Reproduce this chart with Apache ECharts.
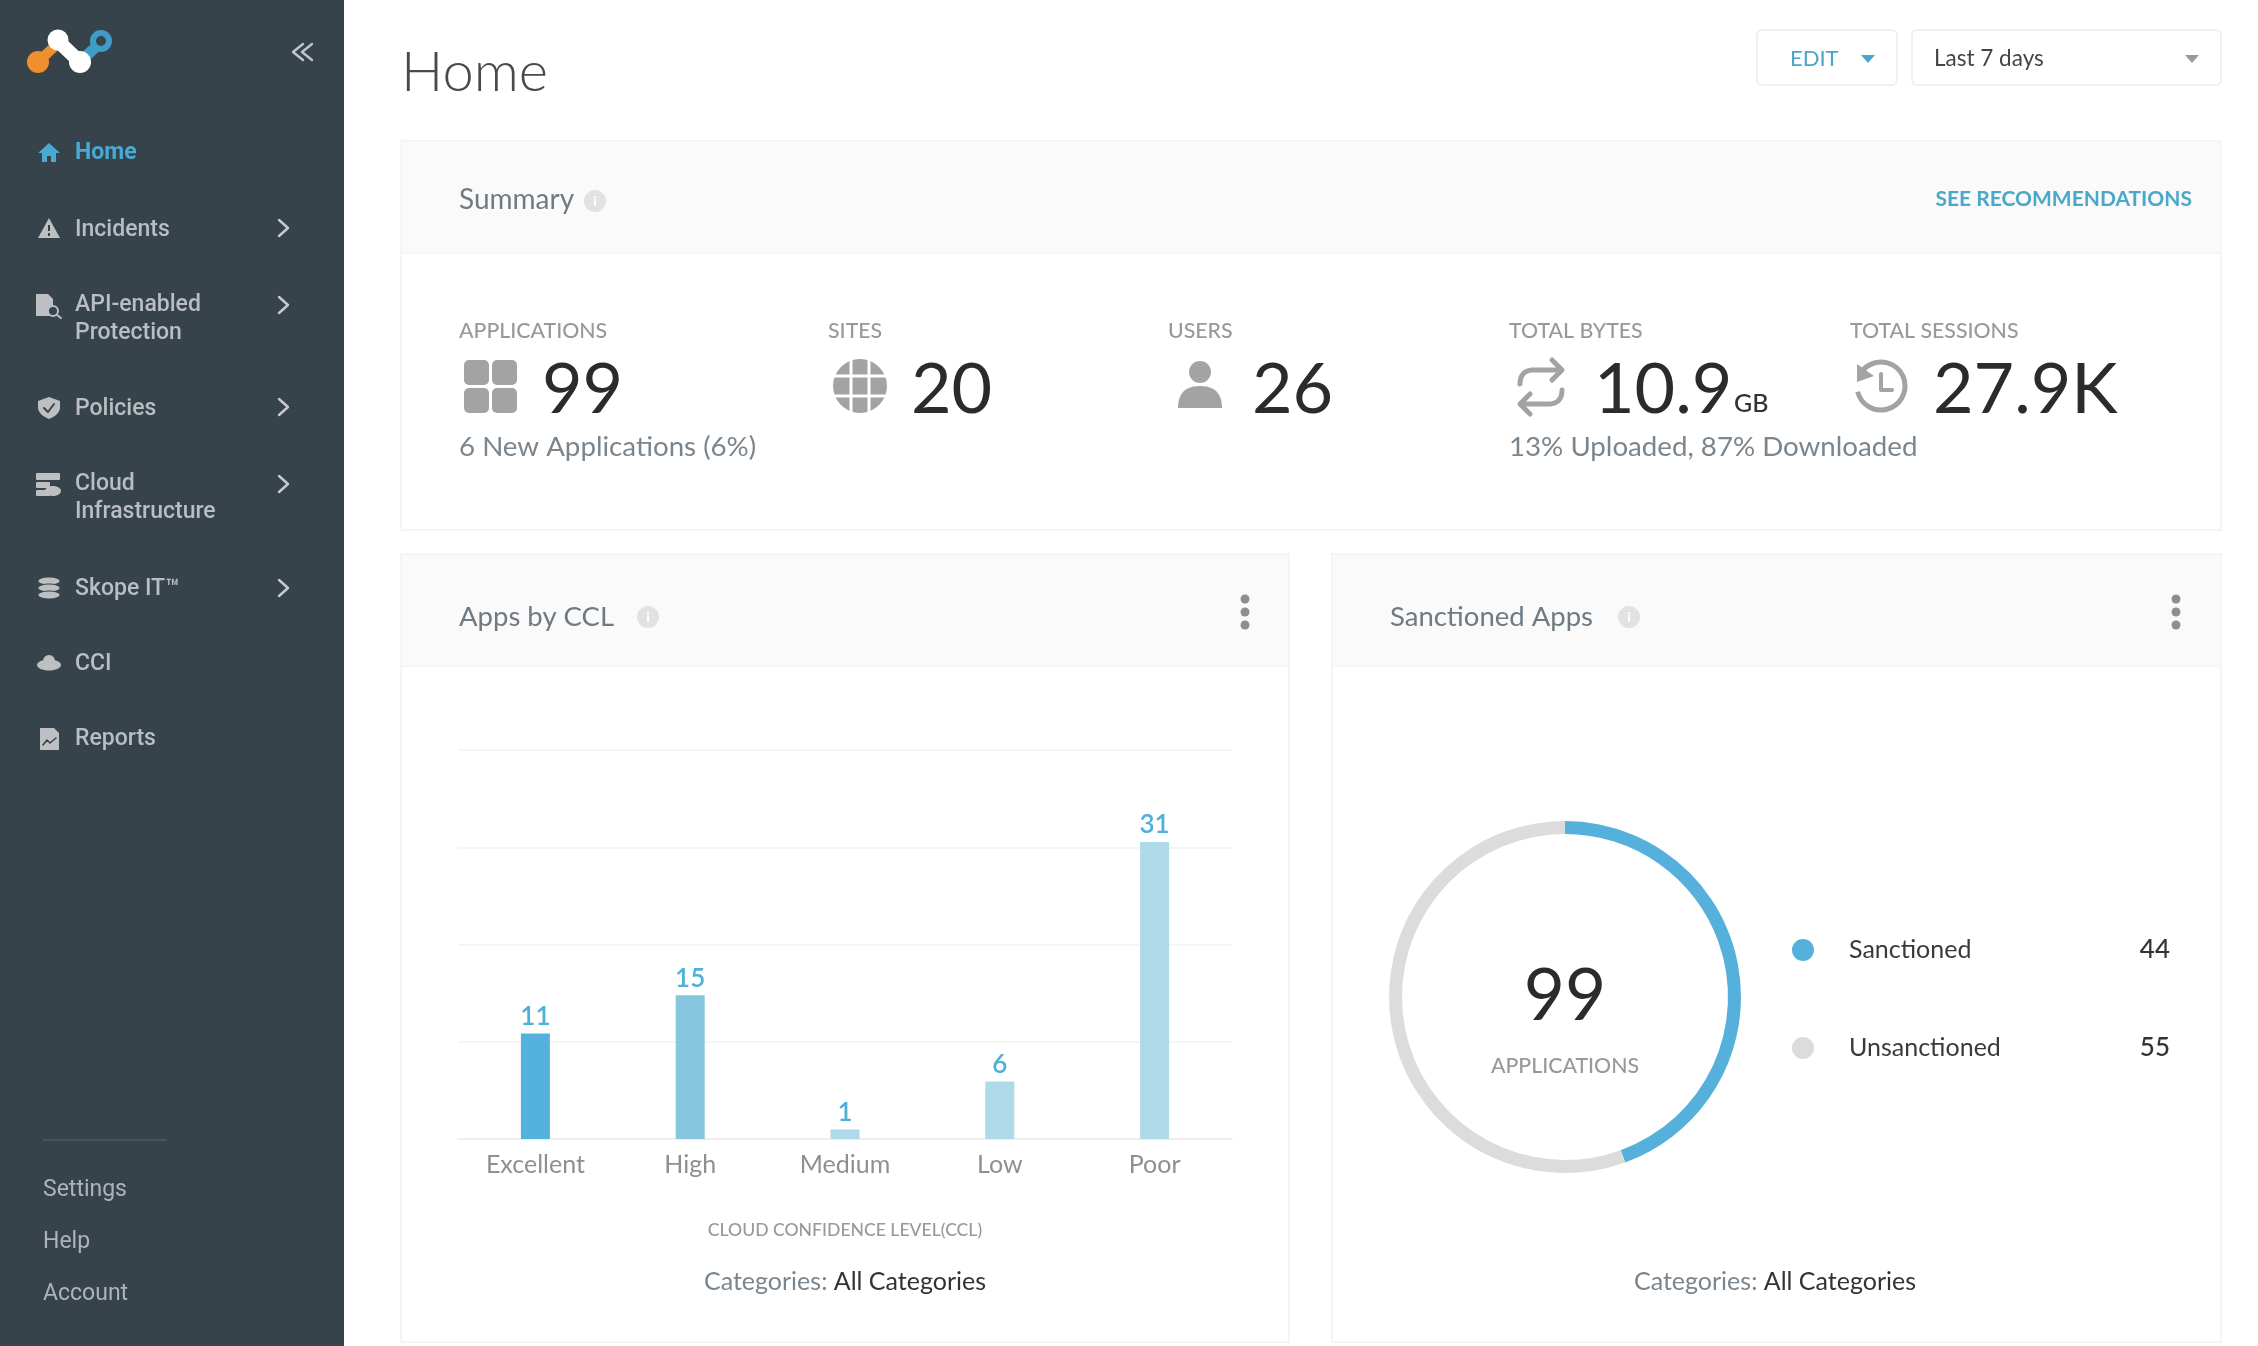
<!DOCTYPE html>
<html><head><meta charset="utf-8">
<style>html,body{margin:0;padding:0;background:#fff}#c{width:2258px;height:1346px}</style>
<script src="https://cdn.jsdelivr.net/npm/echarts@6/dist/echarts.min.js"></script>
</head><body><div id="c"></div>
<script>
// ---- chart data ----
const cclCategories = ['Excellent','High','Medium','Low','Poor'];
const cclValues = [11,15,1,6,31];
const cclColors = ['#55b2dd','#86c6df','#add9e9','#add9e9','#add9e9'];
const sanctionNames = ['Sanctioned','Unsanctioned'];
const sanctionValues = [44,55];
const sanctionColors = ['#55b1dc','#dcdcdc'];
// ---- page text ----
const navLabels = ['Home','Incidents','API-enabled\nProtection','Policies','Cloud\nInfrastructure','Skope IT™','CCI','Reports'];
const footLabels = ['Settings','Help','Account'];
const metricLabels = ['APPLICATIONS','SITES','USERS','TOTAL BYTES','TOTAL SESSIONS'];
const metricValues = ['99','20','26','10.9','27.9K'];

// ---- layout of the page chrome ----
const navY = [153,230,319,409,498,589,664,739];
const navArrow = [false,true,true,true,true,true,false,false];
const arrowY = [0,228,305,407,484,588,0,0];
const footY = [1190,1242,1294];
const metricLabelX = [459,828,1168,1509,1850];
const metricValueX = [542,911,1252,1594,1933];

const LATO='Lato, sans-serif', ROB='Roboto, sans-serif';
const g=[];
function T(x,y,text,size,fill,o){o=o||{};g.push({type:'text',x:x,y:y,z:o.z||5,style:{text:text,font:(o.w||400)+' '+size+'px '+(o.f||LATO),fill:fill,textAlign:o.a||'left',textVerticalAlign:'middle',verticalAlign:'middle',lineHeight:o.lh}});}
function R(x,y,w,h,fill,stroke,r,z){g.push({type:'rect',z:z===undefined?-1:z,shape:{x:x,y:y,width:w,height:h,r:r||0},style:{fill:fill||'none',stroke:stroke||null,lineWidth:stroke?1.5:0}});}
// simple M/L/Q/Z path flattened into polygons (filled) or polylines (stroked)
function P(d,fill,stroke,lw){
 const tk=d.match(/[MLQZ]|-?[\d.]+/g); let subs=[],cur=null,i=0,cmd;
 while(i<tk.length){
  if(/[MLQZ]/.test(tk[i])){cmd=tk[i++]; if(cmd==='Z')continue;}
  if(cmd==='M'){cur=[[+tk[i],+tk[i+1]]];subs.push(cur);i+=2;cmd='L';}
  else if(cmd==='L'){cur.push([+tk[i],+tk[i+1]]);i+=2;}
  else if(cmd==='Q'){const p0=cur[cur.length-1],c=[+tk[i],+tk[i+1]],p=[+tk[i+2],+tk[i+3]];i+=4;
   for(let k=1;k<=12;k++){const t=k/12,u=1-t;cur.push([u*u*p0[0]+2*u*t*c[0]+t*t*p[0],u*u*p0[1]+2*u*t*c[1]+t*t*p[1]]);}}
 }
 subs.forEach(pts=>g.push({type:fill?'polygon':'polyline',z:5,shape:{points:pts},style:{fill:fill||'none',stroke:stroke||null,lineWidth:lw||0,lineCap:'round',lineJoin:'round'}}));
}
function C(cx,cy,r,fill,stroke,lw){g.push({type:'circle',z:5,shape:{cx:cx,cy:cy,r:r},style:{fill:fill||'none',stroke:stroke||null,lineWidth:lw||0}});}
function L(x1,y1,x2,y2,stroke,lw,cap){g.push({type:'line',z:5,shape:{x1:x1,y1:y1,x2:x2,y2:y2},style:{stroke:stroke,lineWidth:lw,lineCap:cap||'round'}});}

// sidebar
const SB='#37434b', NT='#b9bec2', IC='#bcc0c3', BL='#4aa9d3';
R(0,0,344,1346,SB);
// logo
L(38,62,54,47,'#ef8f2e',10); C(38,62,11,'#ef8f2e');
L(85,57,99,44,'#3f9cc6',11); C(101,41,8,SB,'#3f9cc6',6);
L(58,41,80,62,'#ffffff',14); C(58,40,10.5,'#ffffff'); C(80,62,11,'#ffffff');
P('M312 44 L302 52 L312 60 M303 44 L293 52 L303 60',null,'#c2c6c9',2.4);
// nav
navLabels.forEach((t,i)=>{const two=t.includes('\n');T(75,navY[i],t,23,i===0?BL:NT,{f:ROB,w:i===0?700:500,lh:two?28:undefined});
 if(navArrow[i])P(`M279 ${arrowY[i]-8} L288 ${arrowY[i]} L279 ${arrowY[i]+8}`,null,'#c8cbce',2.4);});
// nav icons
P('M38 153 L49 143 L60 153 L56 153 L56 162 L51 162 L51 156 L47 156 L47 162 L42 162 L42 153Z',BL);
P('M49 218 L60 238 L38 238Z',IC); L(49,225,49,231,SB,2,'butt'); L(49,233,49,236,SB,2,'butt');
P('M36 294 L48 294 L53 299 L53 316 L36 316Z',IC); C(53,311,5,SB,IC,2); L(57,315,61,318,IC,2);
P('M49 397 L60 401 L60 408 Q59 415 49 419 Q39 415 38 408 L38 401Z',IC); P('M44 408 L48 412 L54 404',null,SB,2);
R(36,473,24,7,IC,null,1,5);R(36,482,14,6,IC,null,1,5);R(36,490,14,6,IC,null,1,5);g.push({type:'ellipse',z:5,shape:{cx:53,cy:491,rx:8,ry:5},style:{fill:IC}});
[581,588,595].forEach(y=>g.push({type:'ellipse',z:5,shape:{cx:49,cy:y,rx:11,ry:4},style:{fill:IC,stroke:SB,lineWidth:1}}));
g.push({type:'ellipse',z:5,shape:{cx:49,cy:665,rx:12,ry:5.5},style:{fill:IC}});C(49,661,6,IC);
P('M40 728 L54 728 L59 733 L59 750 L40 750Z',IC);P('M43 745 L47 740 L50 743 L56 738',null,SB,1.6);
// sidebar foot
L(43,1140,167,1140,'#4d5a63',1.5,'butt');
footLabels.forEach((t,i)=>T(43,footY[i],t,23,'#aeb3b7',{f:ROB}));

// title + controls
T(401,73,'Home',56,'#4a4a4a',{w:300});
R(1757,30,140,55,'#fff','#ececec',5);
T(1790,59,'EDIT',22,'#4aa6c8');
P('M1861 55 L1875 55 L1868 63Z','#4aa6c8');
R(1912,30,309,55,'#fff','#ececec',5);
T(1934,59,'Last 7 days',22.5,'#444');
P('M2185 55 L2199 55 L2192 63Z','#999');

// cards
function card(x,y,w,h,hh){R(x,y,w,h,'#fff','#f2f2f2',0,-2);R(x+1,y+1,w-2,hh,'#fafafa',null,0,-1);L(x,y+hh+1,x+w,y+hh+1,'#f3f3f3',1.5,'butt');g[g.length-1].z=-1;}
function info(cx,cy){C(cx,cy,11,'#e2e2e2');T(cx,cy,'i',14,'#fff',{a:'center',w:700});}
function kebab(cx,cy){[-13,0,13].forEach(d=>C(cx,cy+d,4.5,'#8e8e8e'));}
card(401,141,1820,389,111);
T(459,200,'Summary',28,'#6f7a83'); info(595,201);
T(2192,199,'SEE RECOMMENDATIONS',21,'#4aa8c9',{a:'right',w:700});
card(401,554,888,788,111);
T(459,617,'Apps by CCL',27.5,'#6f7a83'); info(648,617); kebab(1245,612);
card(1332,554,889,788,111);
T(1390,617,'Sanctioned Apps',27.5,'#6f7a83'); info(1629,617); kebab(2176,612);

// metrics
metricLabels.forEach((t,i)=>T(metricLabelX[i],331,t,21.3,'#999',{w:500}));
metricValues.forEach((t,i)=>T(metricValueX[i],390,t,70,'#2b2b2b'));
T(1734,404,'GB',25,'#333',{w:500});
T(459,447,'6 New Applications (6%)',27.7,'#7a858e');
T(1509,447,'13% Uploaded, 87% Downloaded',27.7,'#7a858e');
// metric icons
const IG='#a3a3a3';
[[464,360],[492,360],[464,388],[492,388]].forEach(p=>R(p[0],p[1],25,25,IG,null,5,5));
C(860,386,27,IG);
[851,869].forEach(x=>L(x,358,x,414,'#fff',3,'butt')); [376,396].forEach(y=>L(832,y,888,y,'#fff',3,'butt'));
C(1200,372,11,IG); P('M1178 408 Q1178 386 1200 386 Q1222 386 1222 408Z',IG);
P('M1520 384 Q1520 370 1534 370 L1560 370 M1552 360 L1562 370 L1552 380',null,IG,5);
P('M1562 390 Q1562 404 1548 404 L1522 404 M1530 394 L1520 404 L1530 414',null,IG,5);
g.push({type:'arc',z:5,shape:{cx:1881,cy:386,r:24,startAngle:-2.6,endAngle:2.9},style:{stroke:IG,lineWidth:5,fill:'none'}});
P('M1857 364 L1857 382 L1874 376Z',IG); P('M1881 374 L1881 390 L1892 390',null,IG,4);

// foots + center
const RICH={a:{fill:'#7a858e',font:'400 25px '+LATO},b:{fill:'#333',font:'400 25px '+LATO}};
T(845,1282,'{a|Categories:} {b|All Categories}',25,'#333',{a:'center'});g[g.length-1].style.rich=RICH;
T(1775,1282,'{a|Categories:} {b|All Categories}',25,'#333',{a:'center'});g[g.length-1].style.rich=RICH;
T(1565,997,'99',71,'#2b2b2b',{a:'center'});
T(1565,1066,'APPLICATIONS',21.3,'#999',{a:'center',w:500});

const option={
 animation:false, backgroundColor:'#fff',
 textStyle:{fontFamily:LATO},
 grid:{left:458,top:750,width:774,height:389,containLabel:false},
 xAxis:{type:'category',data:cclCategories,
  axisTick:{show:false},axisLine:{lineStyle:{color:'#efefef',width:2}},
  axisLabel:{color:'#8f8f8f',fontSize:25,fontFamily:LATO,margin:13},
  name:'CLOUD CONFIDENCE LEVEL(CCL)',nameLocation:'middle',nameGap:82,
  nameTextStyle:{color:'#999',fontSize:17.6,fontFamily:LATO,fontWeight:500}},
 yAxis:{type:'value',min:0,max:40.6,interval:10.15,axisLabel:{show:false},axisLine:{show:false},axisTick:{show:false},
  splitLine:{lineStyle:{color:'#f2f2f2',width:1.5}}},
 legend:{orient:'vertical',left:1787,top:932,itemWidth:22,itemHeight:22,itemGap:72,icon:'circle',
  data:sanctionNames,
  formatter:n=>`{n|${n}}{v|${sanctionValues[sanctionNames.indexOf(n)]}}`,
  textStyle:{rich:{n:{width:291,fontSize:25,color:'#3a3a3a',fontFamily:LATO,padding:[0,0,0,30]},v:{width:30,fontSize:26,color:'#333',fontWeight:500,align:'right',fontFamily:LATO}}}},
 series:[
  {type:'bar',data:cclValues.map((v,i)=>({value:v,itemStyle:{color:cclColors[i]}})),barWidth:29,
   label:{show:true,position:'top',distance:4,color:'#4fb0d8',fontSize:26,fontWeight:600,fontFamily:LATO}},
  {type:'pie',center:[1565,997],radius:[163,176],startAngle:90,clockwise:true,
   label:{show:false},labelLine:{show:false},silent:true,
   data:sanctionNames.map((n,i)=>({name:n,value:sanctionValues[i],itemStyle:{color:sanctionColors[i]}}))}
 ],
 graphic:{elements:g}
};
const chart=echarts.init(document.getElementById('c'));
chart.setOption(option);
</script></body></html>
